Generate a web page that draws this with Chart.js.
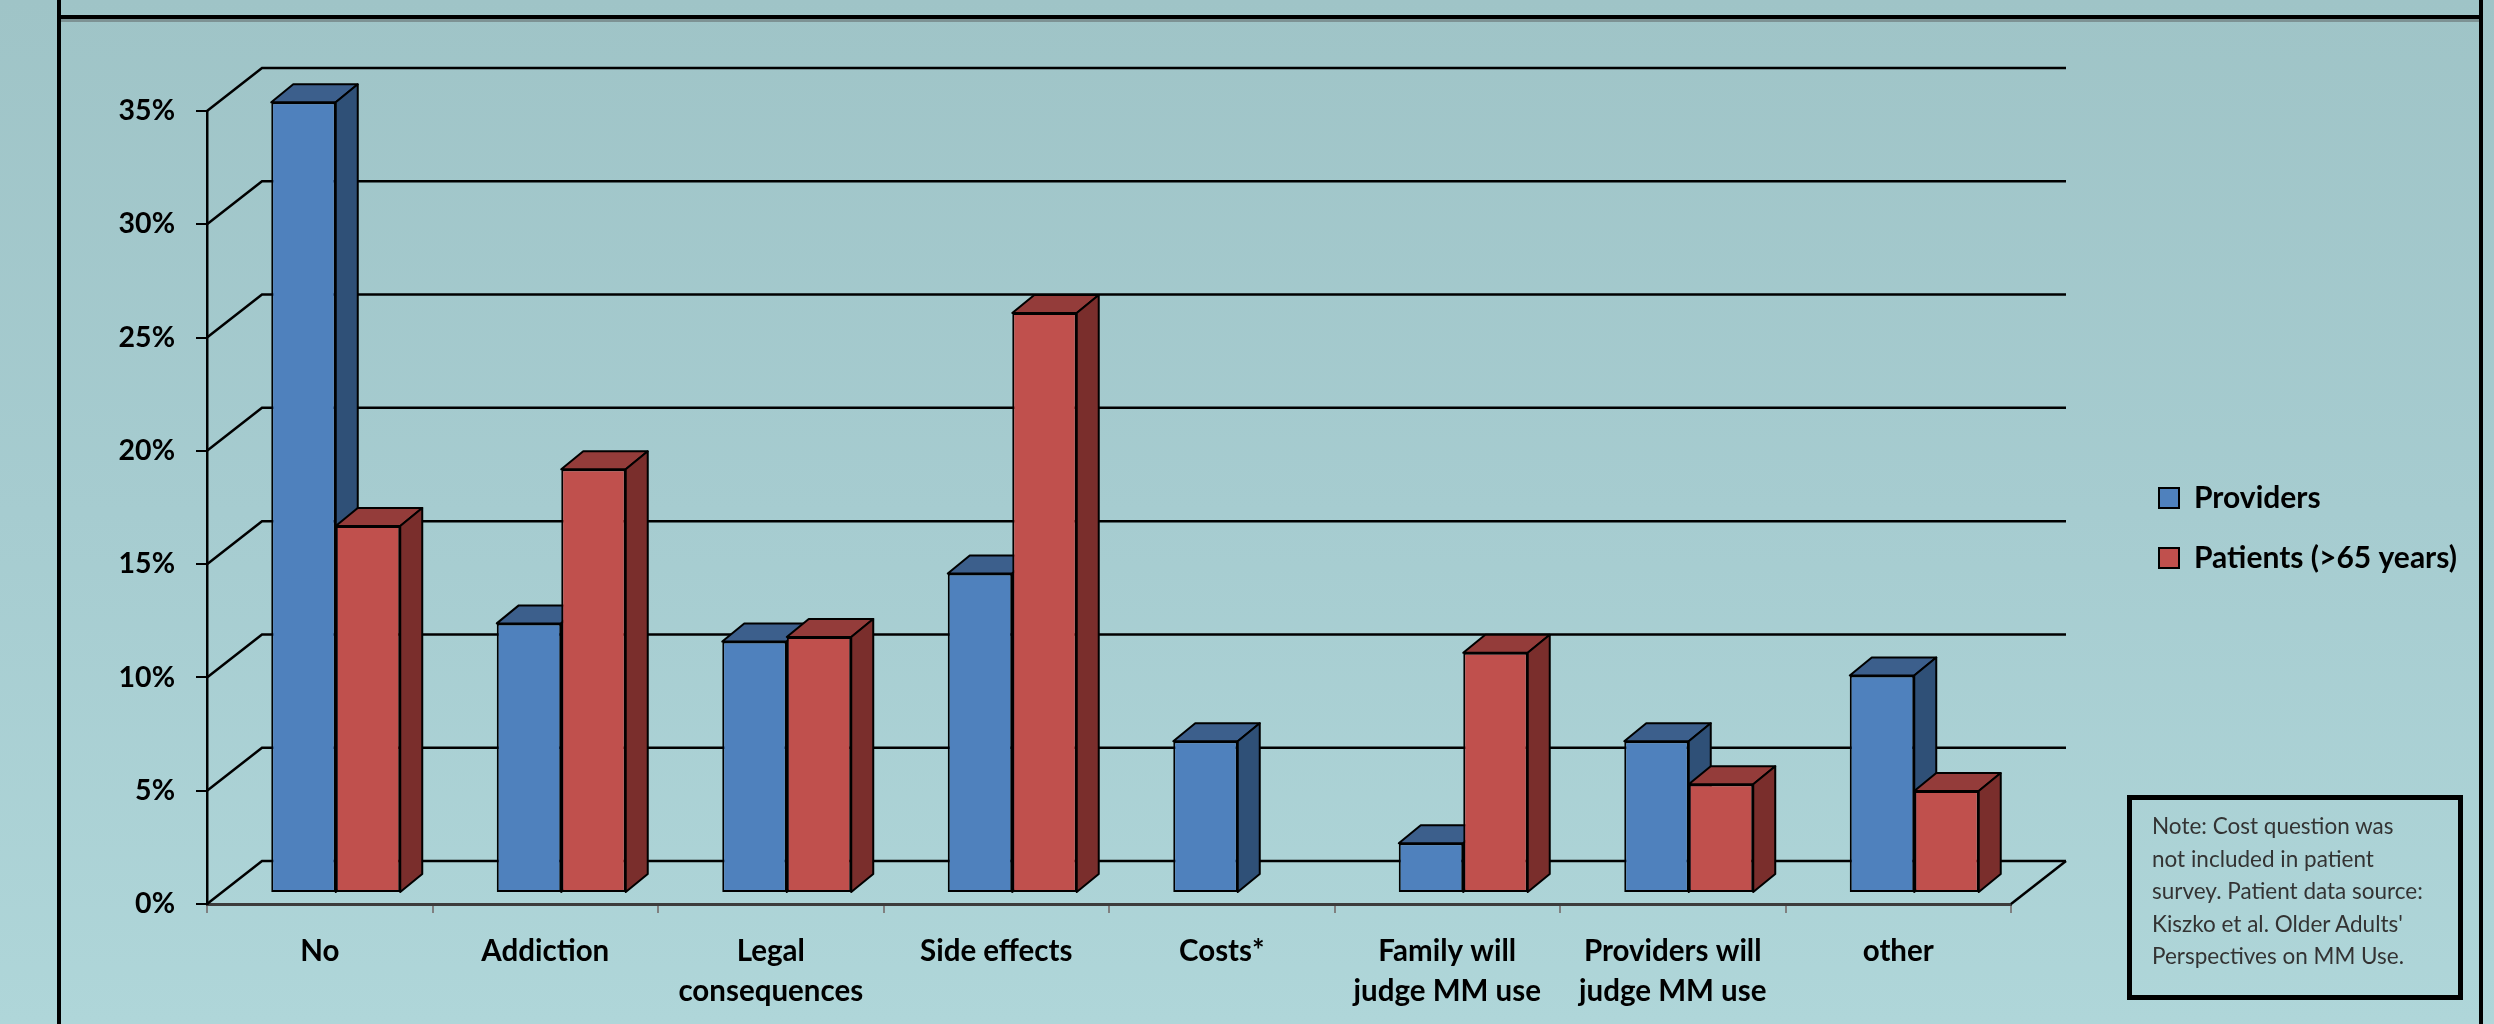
<!DOCTYPE html>
<html>
<head>
<meta charset="utf-8">
<script src="https://cdn.jsdelivr.net/npm/chart.js@4.4.1/dist/chart.umd.min.js"></script>
<style>
  html, body { margin: 0; padding: 0; }
  body {
    width: 2494px; height: 1024px; overflow: hidden; position: relative;
    background: linear-gradient(#9fc4c7, #a6ccd0 50%, #afd6d9);
    font-family: Lato, sans-serif;
  }
  #c { position: absolute; left: 0; top: 0; }
  .line { position: absolute; background: #000; }
  .note {
    position: absolute; left: 2127px; top: 795px; width: 326px; height: 195px;
    border: 5px solid #000; box-sizing: content-box;
    font: 22.5px/32.5px Lato, sans-serif; color: #333;
  }
  .note div { position: absolute; left: 20px; top: 10px; width: 320px; }
</style>
</head>
<body>
<div class="line" style="left:57px;top:0;width:4px;height:1024px"></div>
<div class="line" style="left:2479px;top:0;width:4px;height:1024px"></div>
<div class="line" style="left:57px;top:15px;width:2426px;height:4px"></div>
<div class="line" style="left:61px;top:19px;width:2418px;height:3px;background:#7d9294"></div>

<canvas id="c" width="2494" height="1024"></canvas>

<div class="note"><div>Note: Cost question was<br>not included in patient<br>survey. Patient data source:<br>Kiszko et al. Older Adults'<br>Perspectives on MM Use.</div></div>

<script>
// data
const categories = ['No', 'Addiction', ['Legal', 'consequences'], 'Side effects', 'Costs*',
  ['Family will', 'judge MM use'], ['Providers will', 'judge MM use'], 'other'];
const seriesNames = ['Providers', 'Patients (>65 years)'];
const providers = [34.9, 11.9, 11.1, 14.1, 6.7, 2.2, 6.7, 9.6];
const patients = [16.2, 18.7, 11.3, 25.6, null, 10.6, 4.8, 4.5];
const yMax = 35;
const yStep = 5;

// styles
const frontColors = ['#4F81BD', '#C0504D'];
const topColors = ['#3C5F8C', '#943C3A'];
const sideColors = ['#2F5077', '#7A2E2C'];
const WALL_DX = 55, WALL_DY = 43;     // back wall offset
const BAR_SX = 16, BAR_SY = -11;      // bars sit a bit into the depth
const BAR_DX = 22, BAR_DY = 18;       // bar extrusion

Chart.defaults.font.family = 'Lato';
Chart.defaults.color = '#000';

// legend text width, so the legend lands where the picture has it
const legendFont = 30;
let m = document.createElement('canvas').getContext('2d');
m.font = 'bold ' + legendFont + 'px Lato';
let legendTextW = Math.max(...seriesNames.map(s => m.measureText(s).width));
let legendPad = 30;
let legendW = legendPad + 20 + legendFont / 2 + legendTextW + 10;

function poly(ctx, pts, fill) {
  ctx.beginPath();
  ctx.moveTo(pts[0][0], pts[0][1]);
  pts.slice(1).forEach(p => ctx.lineTo(p[0], p[1]));
  ctx.closePath();
  ctx.fillStyle = fill;
  ctx.fill();
  ctx.stroke();
}

const fake3d = {
  id: 'fake3d',
  beforeDatasetsDraw(chart) {
    const { ctx, chartArea: a, scales: { y } } = chart;

    // 🔥 back wall gridlines + left wall diagonals
    ctx.save();
    ctx.strokeStyle = '#000';
    ctx.lineWidth = 2.5;
    y.ticks.forEach(t => {
      let py = y.getPixelForValue(t.value);
      ctx.beginPath();
      ctx.moveTo(a.left, py);
      ctx.lineTo(a.left + WALL_DX, py - WALL_DY);
      ctx.lineTo(a.right + WALL_DX, py - WALL_DY);
      ctx.stroke();
    });
    ctx.beginPath();
    ctx.moveTo(a.right, a.bottom);
    ctx.lineTo(a.right + WALL_DX, a.bottom - WALL_DY);
    ctx.stroke();
    ctx.restore();

    // 🔥 bar tops and sides (fronts are drawn by Chart.js after this)
    ctx.save();
    ctx.translate(BAR_SX, BAR_SY);
    ctx.strokeStyle = '#000';
    ctx.lineWidth = 2;
    ctx.lineJoin = 'round';
    categories.forEach((c, i) => {
      chart.data.datasets.forEach((ds, d) => {
        if (ds.data[i] == null) return;
        let b = chart.getDatasetMeta(d).data[i];
        let L = b.x - b.width / 2, R = b.x + b.width / 2, T = b.y, B = b.base;
        poly(ctx, [[L, T], [R, T], [R + BAR_DX, T - BAR_DY], [L + BAR_DX, T - BAR_DY]], topColors[d]);
        poly(ctx, [[R, T], [R + BAR_DX, T - BAR_DY], [R + BAR_DX, B - BAR_DY], [R, B]], sideColors[d]);
      });
    });
  },
  afterDatasetsDraw(chart) {
    chart.ctx.restore();
  }
};

new Chart(document.getElementById('c'), {
  type: 'bar',
  data: {
    labels: categories,
    datasets: [
      { label: seriesNames[0], data: providers, backgroundColor: frontColors[0] },
      { label: seriesNames[1], data: patients, backgroundColor: frontColors[1] }
    ]
  },
  options: {
    responsive: false,
    animation: false,
    devicePixelRatio: 1,
    layout: { padding: { left: 60, top: 111, bottom: 0, right: 2494 - 2129 - legendW } },
    datasets: {
      bar: {
        borderColor: '#000',
        borderWidth: 2,
        borderSkipped: false,
        categoryPercentage: 0.572,
        barPercentage: 1.0,
        clip: false
      }
    },
    scales: {
      x: {
        grid: { drawOnChartArea: false, drawTicks: true, tickLength: 9, color: '#808080', lineWidth: 2 },
        border: { color: '#3c3c3c', width: 3 },
        ticks: { font: { size: 29.5, weight: 'bold', lineHeight: 1.356 }, padding: 18, maxRotation: 0, autoSkip: false },
        afterFit: s => { s.height = 120; }
      },
      y: {
        min: 0,
        max: yMax,
        grid: { drawOnChartArea: false, drawTicks: true, tickLength: 11, color: '#000', lineWidth: 2 },
        border: { color: '#000', width: 2.5 },
        ticks: { stepSize: yStep, font: { size: 28.5, weight: 'bold' }, padding: 21, callback: v => v + '%' },
        afterFit: s => { s.width = 147; }
      },
      gap: {
        type: 'linear',
        position: 'right',
        grid: { display: false },
        ticks: { display: false },
        border: { display: false },
        afterFit: s => { s.width = 118; }
      }
    },
    plugins: {
      legend: {
        position: 'right',
        fullSize: false,
        title: { display: true, text: '', font: { size: 1, lineHeight: 1 }, padding: { top: 40, bottom: 0 } },
        labels: {
          boxWidth: 20,
          boxHeight: 20,
          padding: legendPad,
          color: '#000',
          font: { size: legendFont, weight: 'bold' }
        }
      },
      tooltip: { enabled: false }
    }
  },
  plugins: [fake3d]
});
</script>
</body>
</html>
